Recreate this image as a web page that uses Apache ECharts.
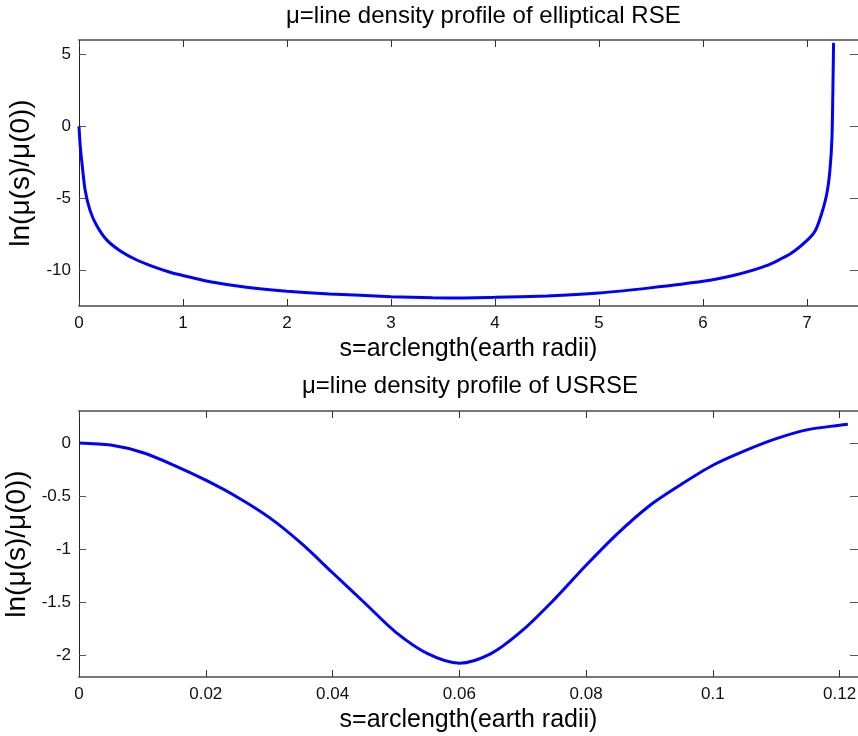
<!DOCTYPE html>
<html>
<head>
<meta charset="utf-8">
<script src="https://cdn.jsdelivr.net/npm/echarts@6/dist/echarts.min.js"></script>
<style>
  html, body { margin: 0; padding: 0; background: #fff; }
  #chart { width: 858px; height: 736px; }
</style>
</head>
<body>
<div id="chart"></div>
<script>
// upper panel: elliptical RSE
var rseS = [0, 0.01, 0.026, 0.058, 0.106, 0.17, 0.266, 0.394, 0.555, 0.714, 0.875, 1.0, 1.29, 1.61, 2.0, 2.41,
  3.0, 3.4, 3.7, 4.0, 4.5, 5.0, 5.49, 6.0, 6.29, 6.61, 6.84, 7.0, 7.08, 7.14, 7.19, 7.22, 7.24, 7.25, 7.255];
var rseLn = [0, -1.2, -2.4, -4.4, -5.85, -6.9, -7.9, -8.65, -9.3, -9.76, -10.15, -10.38, -10.85, -11.2, -11.47, -11.66,
  -11.85, -11.93, -11.94, -11.9, -11.8, -11.6, -11.24, -10.78, -10.38, -9.69, -8.87, -7.94, -7.25, -6.08, -4.69, -3.07, -0.74, 3.2, 5.8];
var rseXTicks = [0, 1, 2, 3, 4, 5, 6, 7];
var rseYTicks = [-10, -5, 0, 5];

// lower panel: USRSE
var usS = [0, 0.005, 0.01, 0.015, 0.02, 0.025, 0.03, 0.035, 0.04, 0.045, 0.05, 0.055, 0.06,
  0.065, 0.07, 0.075, 0.08, 0.085, 0.09, 0.095, 0.1, 0.105, 0.11, 0.115, 0.12, 0.1213];
var usLn = [0, -0.02, -0.09, -0.21, -0.35, -0.51, -0.70, -0.94, -1.22, -1.50, -1.78, -1.98, -2.07,
  -1.98, -1.76, -1.47, -1.15, -0.85, -0.59, -0.39, -0.21, -0.075, 0.04, 0.125, 0.166, 0.175];
var usXTicks = [0, 0.02, 0.04, 0.06, 0.08, 0.1, 0.12];
var usYTicks = [-2, -1.5, -1, -0.5, 0];

var FONT = '"Liberation Sans", Arial, sans-serif';

function pairs(xs, ys) {
  return xs.map(function (x, i) { return [x, ys[i]]; });
}

function bottomAxis(grid, min, max, ticks) {
  return {
    type: 'value', gridIndex: grid, position: 'bottom', min: min, max: max,
    name: 's=arclength(earth radii)', nameLocation: 'middle', nameGap: 31,
    nameTextStyle: { fontFamily: FONT, fontSize: 25, color: '#000' },
    splitLine: { show: false },
    axisLine: { onZero: false, lineStyle: { color: '#777', width: 2 } },
    axisTick: { inside: true, length: 7, customValues: ticks, lineStyle: { color: '#333' } },
    axisLabel: { customValues: ticks, margin: 9, fontFamily: FONT, fontSize: 17, color: '#111' }
  };
}

function topAxis(grid, min, max, ticks) {
  return {
    type: 'value', gridIndex: grid, position: 'top', min: min, max: max,
    splitLine: { show: false },
    axisLine: { onZero: false, lineStyle: { color: '#777', width: 2 } },
    axisTick: { inside: true, length: 7, customValues: ticks, lineStyle: { color: '#333' } },
    axisLabel: { show: false }
  };
}

function leftAxis(grid, min, max, ticks, gap) {
  return {
    type: 'value', gridIndex: grid, position: 'left', min: min, max: max,
    name: 'ln(μ(s)/μ(0))', nameLocation: 'middle', nameGap: gap,
    nameTextStyle: { fontFamily: FONT, fontSize: 28, color: '#000' },
    splitLine: { show: false },
    axisLine: { onZero: false, lineStyle: { color: '#222', width: 1 } },
    axisTick: { inside: true, length: 7, customValues: ticks, lineStyle: { color: '#555' } },
    axisLabel: { customValues: ticks, margin: 8, fontFamily: FONT, fontSize: 17, color: '#111' }
  };
}

function rightAxis(grid, min, max, ticks) {
  return {
    type: 'value', gridIndex: grid, position: 'right', min: min, max: max,
    splitLine: { show: false },
    axisLine: { onZero: false, lineStyle: { color: '#777', width: 1 } },
    axisTick: { inside: true, length: 8, customValues: ticks, lineStyle: { color: '#555' } },
    axisLabel: { show: false }
  };
}

var myChart = echarts.init(document.getElementById('chart'));
myChart.setOption({
  animation: false,
  backgroundColor: '#fff',
  title: [
    {
      text: 'μ=line density profile of elliptical RSE', left: 286, top: 4, padding: 0,
      textStyle: { fontFamily: FONT, fontSize: 24, fontWeight: 'normal', color: '#000' }
    },
    {
      text: 'μ=line density profile of USRSE', left: 302, top: 374, padding: 0,
      textStyle: { fontFamily: FONT, fontSize: 24, fontWeight: 'normal', color: '#000' }
    }
  ],
  grid: [
    { left: 79, right: 0, top: 40, height: 266, outerBoundsMode: 'none' },
    { left: 79, right: 0, top: 411, height: 266, outerBoundsMode: 'none' }
  ],
  xAxis: [
    bottomAxis(0, 0, 7.49, rseXTicks),
    topAxis(0, 0, 7.49, rseXTicks),
    bottomAxis(1, 0, 0.1229, usXTicks),
    topAxis(1, 0, 0.1229, usXTicks)
  ],
  yAxis: [
    leftAxis(0, -12.5, 6, rseYTicks, 40),
    rightAxis(0, -12.5, 6, rseYTicks),
    leftAxis(1, -2.2, 0.3, usYTicks, 45),
    rightAxis(1, -2.2, 0.3, usYTicks)
  ],
  series: [
    {
      type: 'line', xAxisIndex: 0, yAxisIndex: 0, data: pairs(rseS, rseLn),
      showSymbol: false, smooth: 0.2,
      lineStyle: { color: '#0000ff', width: 3 }
    },
    {
      type: 'line', xAxisIndex: 2, yAxisIndex: 2, data: pairs(usS, usLn),
      showSymbol: false, smooth: 0.3,
      lineStyle: { color: '#0000ff', width: 3 }
    }
  ]
});
</script>
</body>
</html>
